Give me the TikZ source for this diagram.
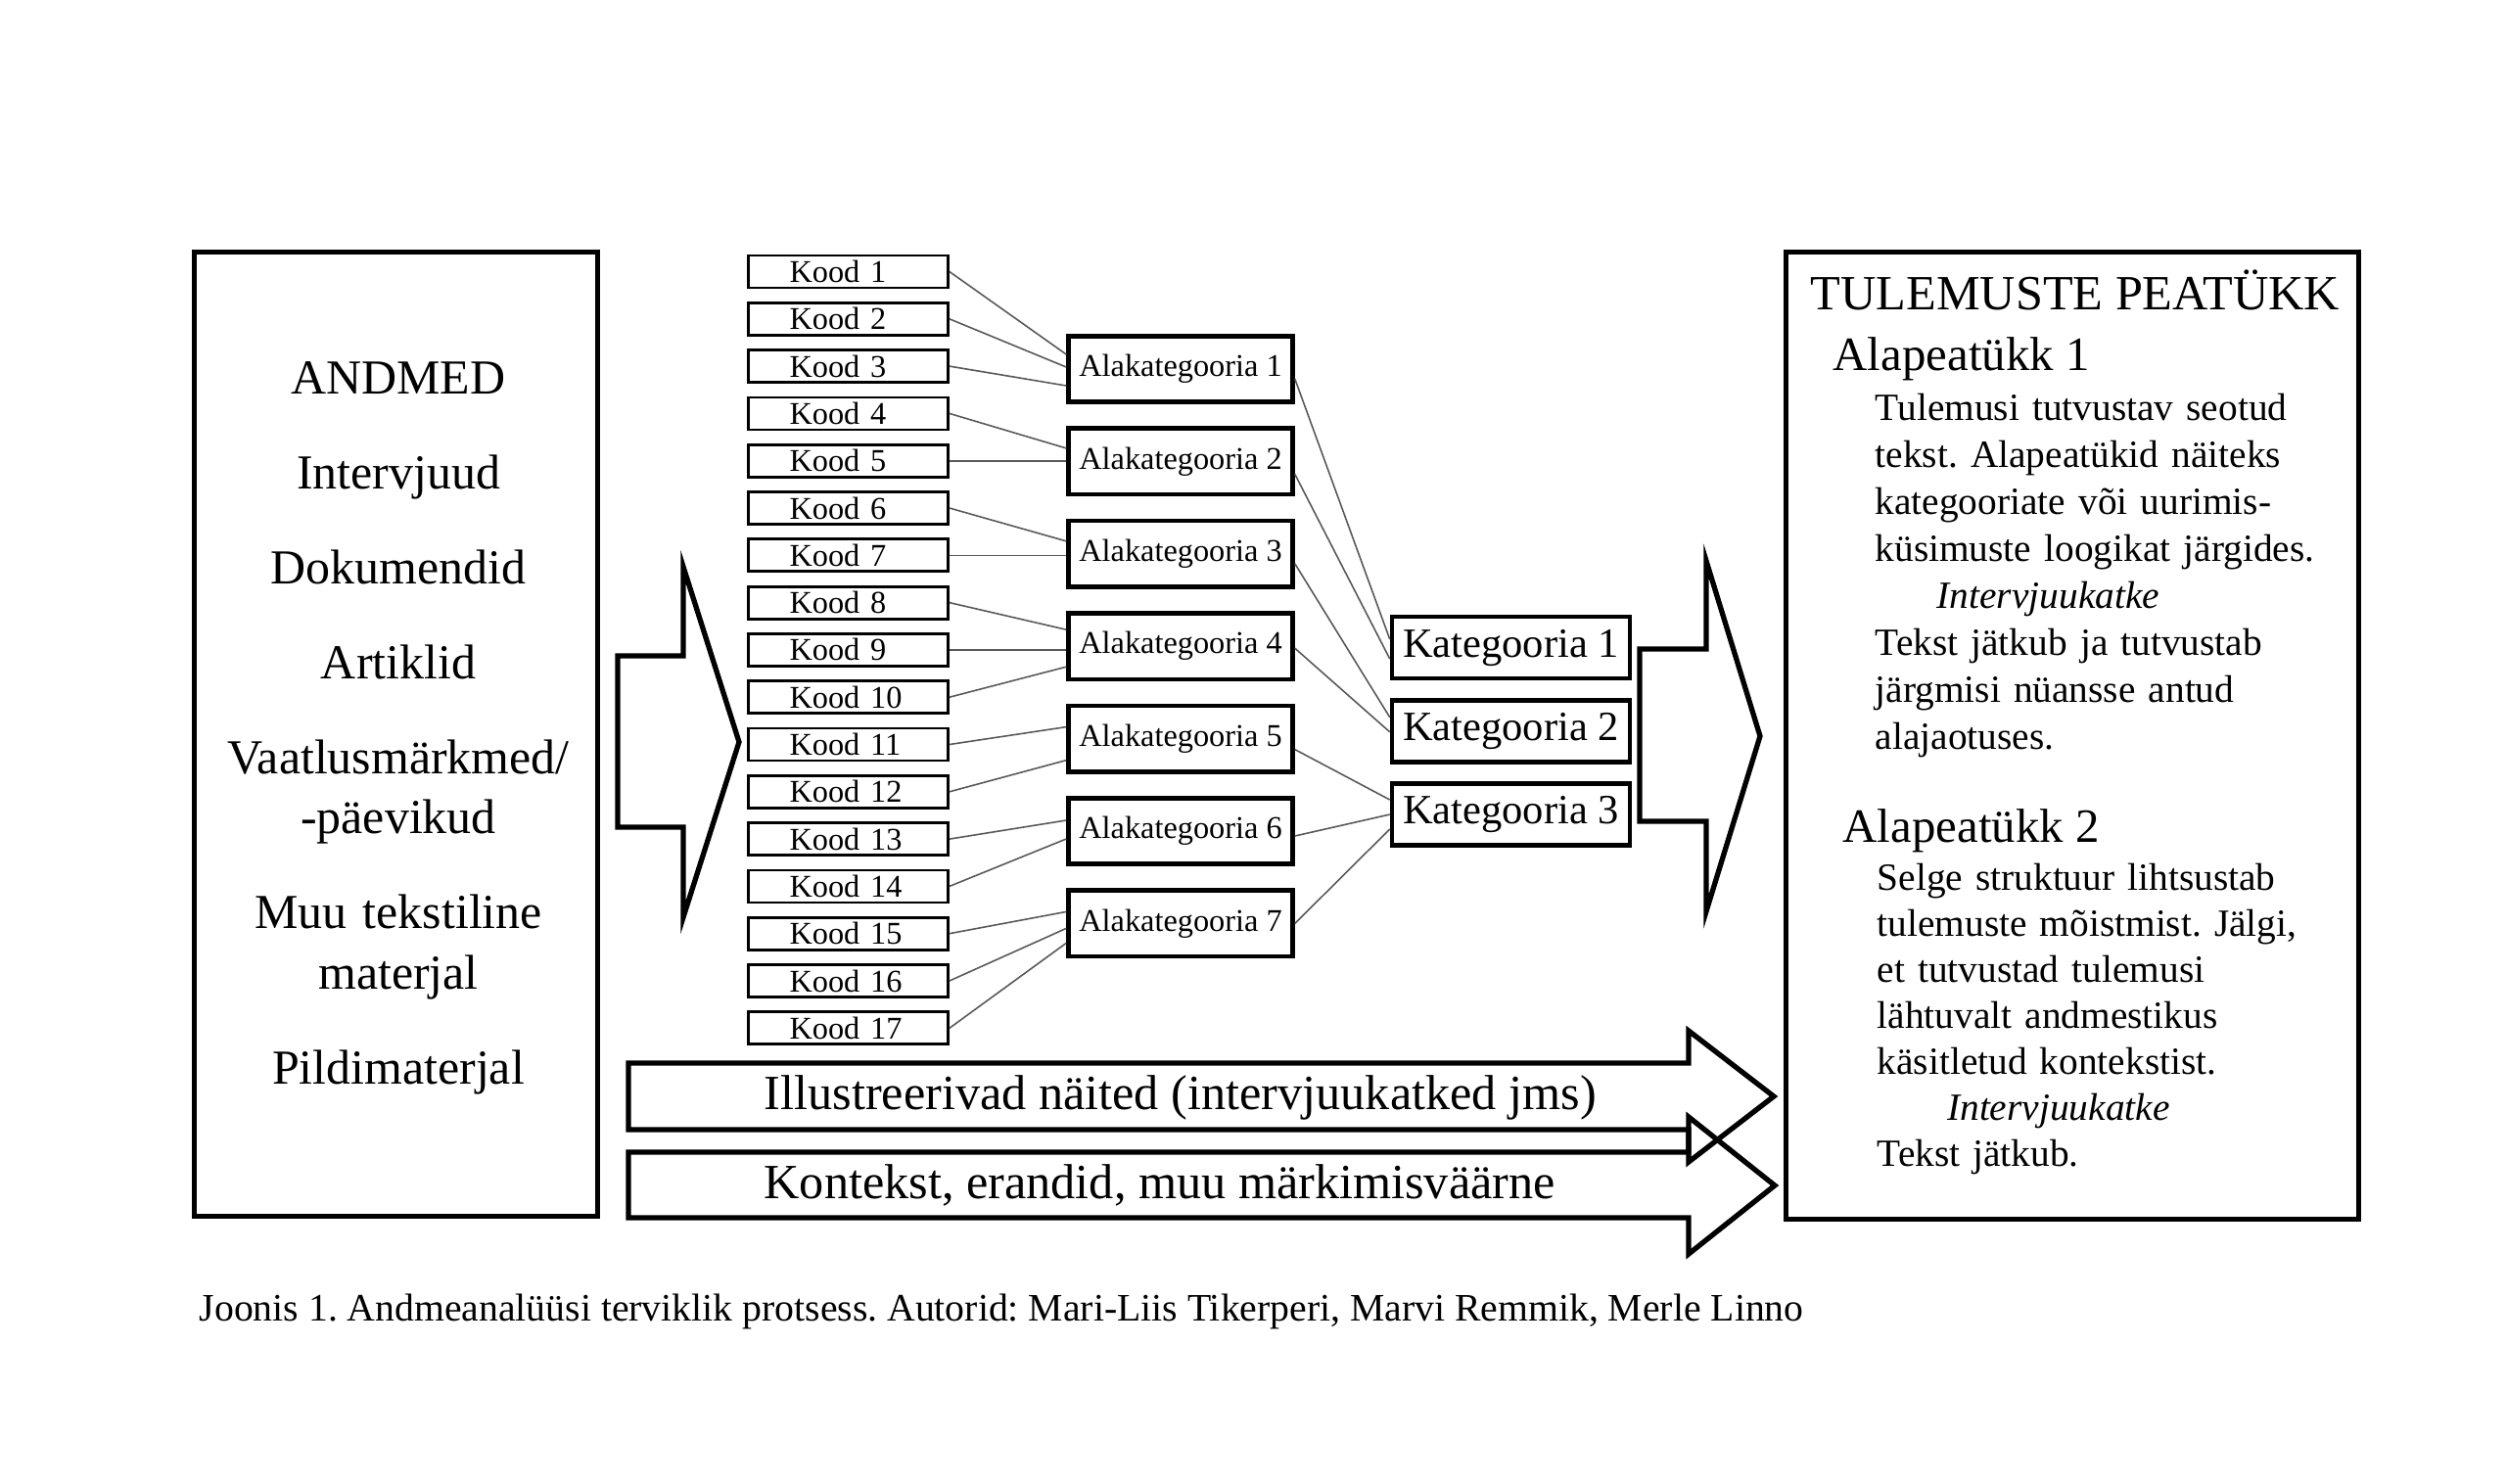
\documentclass[tikz,border=0pt]{standalone}
\usepackage{fontspec}
\setmainfont{Liberation Serif}
\frenchspacing
\usetikzlibrary{shapes,arrows,calc}
\tikzstyle{koodbox}=[draw, line width=0.8pt, minimum width=2.04cm, minimum height=0.33cm, inner xsep=0.42cm, inner ysep=0pt, text width=1.2cm, align=left, font=\fontsize{9.2}{10}\selectfont]
\tikzstyle{alabox}=[draw, line width=1.3pt, minimum width=2.29cm, minimum height=0.675cm, inner sep=0pt, font=\fontsize{9.2}{10}\selectfont]
\tikzstyle{katbox}=[draw, line width=1.3pt, minimum width=2.43cm, minimum height=0.63cm, inner sep=0pt, font=\fontsize{12.1}{14}\selectfont]
\tikzstyle{bigbox}=[draw, line width=1.4pt, inner sep=0pt]
\tikzstyle{blockarrow}=[draw, line width=1.5pt]
\tikzstyle{link}=[draw, black!65, line width=0.45pt]

\begin{document}
\begin{tikzpicture}[x=1cm, y=-1cm]

\path[fill=white] (0,0) rectangle (25.6,15.15);

% andmed
\node[bigbox, minimum width=4.12cm, minimum height=9.85cm] (andmed) at (4.045,7.50) {};
\node[anchor=base, text width=4cm, align=center, font=\fontsize{14.2}{17.6}\selectfont] (andmedlist) at (4.07,4.02) {ANDMED\\[10pt] Intervjuud\\[10pt] Dokumendid\\[10pt] Artiklid\\[10pt] Vaatlusmärkmed/\\ -päevikud\\[10pt] Muu tekstiline\\ materjal\\[10pt] Pildimaterjal};

% koodid
\node[koodbox] (kood1) at (8.665,2.775) {Kood 1};
\node[koodbox] (kood2) [below of=kood1, node distance=0.483cm] {Kood 2};
\node[koodbox] (kood3) [below of=kood2, node distance=0.483cm] {Kood 3};
\node[koodbox] (kood4) [below of=kood3, node distance=0.483cm] {Kood 4};
\node[koodbox] (kood5) [below of=kood4, node distance=0.483cm] {Kood 5};
\node[koodbox] (kood6) [below of=kood5, node distance=0.483cm] {Kood 6};
\node[koodbox] (kood7) [below of=kood6, node distance=0.483cm] {Kood 7};
\node[koodbox] (kood8) [below of=kood7, node distance=0.483cm] {Kood 8};
\node[koodbox] (kood9) [below of=kood8, node distance=0.483cm] {Kood 9};
\node[koodbox] (kood10) [below of=kood9, node distance=0.483cm] {Kood 10};
\node[koodbox] (kood11) [below of=kood10, node distance=0.483cm] {Kood 11};
\node[koodbox] (kood12) [below of=kood11, node distance=0.483cm] {Kood 12};
\node[koodbox] (kood13) [below of=kood12, node distance=0.483cm] {Kood 13};
\node[koodbox] (kood14) [below of=kood13, node distance=0.483cm] {Kood 14};
\node[koodbox] (kood15) [below of=kood14, node distance=0.483cm] {Kood 15};
\node[koodbox] (kood16) [below of=kood15, node distance=0.483cm] {Kood 16};
\node[koodbox] (kood17) [below of=kood16, node distance=0.483cm] {Kood 17};

% alakategooriad
\node[alabox] (ala1) at (12.06,3.77) {Alakategooria 1};
\node[alabox] (ala2) [below of=ala1, node distance=0.944cm] {Alakategooria 2};
\node[alabox] (ala3) [below of=ala2, node distance=0.944cm] {Alakategooria 3};
\node[alabox] (ala4) [below of=ala3, node distance=0.944cm] {Alakategooria 4};
\node[alabox] (ala5) [below of=ala4, node distance=0.944cm] {Alakategooria 5};
\node[alabox] (ala6) [below of=ala5, node distance=0.944cm] {Alakategooria 6};
\node[alabox] (ala7) [below of=ala6, node distance=0.944cm] {Alakategooria 7};

% kategooriad
\node[katbox] (kat1) at (15.435,6.615) {Kategooria 1};
\node[katbox] (kat2) [below of=kat1, node distance=0.8525cm] {Kategooria 2};
\node[katbox] (kat3) [below of=kat2, node distance=0.8525cm] {Kategooria 3};

% koodid -> alakategooriad
\draw [link] (kood1.east) -- ([yshift=0.15cm]ala1.west);
\draw [link] (kood2.east) -- ([yshift=0.02cm]ala1.west);
\draw [link] (kood3.east) -- ([yshift=-0.17cm]ala1.west);
\draw [link] (kood4.east) -- ([yshift=0.135cm]ala2.west);
\draw [link] (kood5.east) -- (kood5.east -| ala2.west);
\draw [link] (kood6.east) -- ([yshift=0.13cm]ala3.west);
\draw [link] (kood7.east) -- (kood7.east -| ala3.west);
\draw [link] (kood8.east) -- ([yshift=0.17cm]ala4.west);
\draw [link] (kood9.east) -- (kood9.east -| ala4.west);
\draw [link] (kood10.east) -- ([yshift=-0.21cm]ala4.west);
\draw [link] (kood11.east) -- ([yshift=0.12cm]ala5.west);
\draw [link] (kood12.east) -- ([yshift=-0.22cm]ala5.west);
\draw [link] (kood13.east) -- ([yshift=0.11cm]ala6.west);
\draw [link] (kood14.east) -- ([yshift=-0.08cm]ala6.west);
\draw [link] (kood15.east) -- ([yshift=0.12cm]ala7.west);
\draw [link] (kood16.east) -- ([yshift=-0.05cm]ala7.west);
\draw [link] (kood17.east) -- ([yshift=-0.20cm]ala7.west);

% alakategooriad -> kategooriad
\draw [link] ([yshift=-0.10cm]ala1.east) -- ([yshift=0.085cm]kat1.west);
\draw [link] ([yshift=-0.13cm]ala2.east) -- ([yshift=-0.115cm]kat1.west);
\draw [link] ([yshift=-0.10cm]ala3.east) -- ([yshift=0.14cm]kat2.west);
\draw [link] ([yshift=-0.02cm]ala4.east) -- ([yshift=-0.01cm]kat2.west);
\draw [link] ([yshift=-0.11cm]ala5.east) -- ([yshift=0.15cm]kat3.west);
\draw [link] ([yshift=-0.05cm]ala6.east) -- (kat3.west);
\draw [link] (ala7.east) -- ([yshift=-0.15cm]kat3.west);

% suured nooled
\draw [blockarrow] (6.31,6.70) -- (6.98,6.70) -- (6.98,5.79) -- (7.55,7.58) -- (6.98,9.37) -- (6.98,8.45) -- (6.31,8.45) -- cycle;
\draw [blockarrow] (16.75,6.63) -- (17.43,6.63) -- (17.43,5.73) -- (17.98,7.52) -- (17.43,9.31) -- (17.43,8.39) -- (16.75,8.39) -- cycle;
\draw [blockarrow] (6.42,10.86) -- (17.25,10.86) -- (17.25,10.53) -- (18.12,11.20) -- (17.25,11.87) -- (17.25,11.54) -- (6.42,11.54) -- cycle;
\draw [blockarrow] (6.42,11.77) -- (17.25,11.77) -- (17.25,11.41) -- (18.13,12.11) -- (17.25,12.81) -- (17.25,12.44) -- (6.42,12.44) -- cycle;
\node[anchor=base west, inner sep=0pt, font=\fontsize{14.3}{17}\selectfont] (naited) at (7.80,11.33) {Illustreerivad näited (intervjuukatked jms)};
\node[anchor=base west, inner sep=0pt, font=\fontsize{14.3}{17}\selectfont] (kontekst) at (7.80,12.24) {Kontekst, erandid, muu märkimisväärne};

% tulemuste peatükk
\node[bigbox, minimum width=5.85cm, minimum height=9.88cm] (tulemused) at (21.17,7.515) {};
\node[anchor=base west, inner sep=0pt, font=\fontsize{14.3}{16}\selectfont] (peatykk) at (18.49,3.16) {TULEMUSTE PEATÜKK};
\node[anchor=base west, inner sep=0pt, font=\fontsize{13.9}{16}\selectfont] (alapeatykk1) at (18.72,3.78) {Alapeatükk 1};
\node[anchor=base west, inner sep=0pt, text width=4.8cm, align=left, font=\fontsize{11.2}{13.66}\selectfont] (tekst1) at (19.15,4.29) {Tulemusi tutvustav seotud\\ tekst. Alapeatükid näiteks\\ kategooriate või uurimis-\\ küsimuste loogikat järgides.\\ \hspace*{0.63cm}\textit{Intervjuukatke}\\ Tekst jätkub ja tutvustab\\ järgmisi nüansse antud\\ alajaotuses.};
\node[anchor=base west, inner sep=0pt, font=\fontsize{13.9}{16}\selectfont] (alapeatykk2) at (18.82,8.60) {Alapeatükk 2};
\node[anchor=base west, inner sep=0pt, text width=4.8cm, align=left, font=\fontsize{11.2}{13.4}\selectfont] (tekst2) at (19.17,9.09) {Selge struktuur lihtsustab\\ tulemuste mõistmist. Jälgi,\\ et tutvustad tulemusi\\ lähtuvalt andmestikus\\ käsitletud kontekstist.\\ \hspace*{0.715cm}\textit{Intervjuukatke}\\ Tekst jätkub.};

% allkiri
\node[anchor=base west, inner sep=0pt, font=\fontsize{11.3}{13}\selectfont] (joonis) at (2.03,13.49) {Joonis 1. Andmeanalüüsi terviklik protsess. Autorid: Mari-Liis Tikerperi, Marvi Remmik, Merle Linno};

\end{tikzpicture}
\end{document}
